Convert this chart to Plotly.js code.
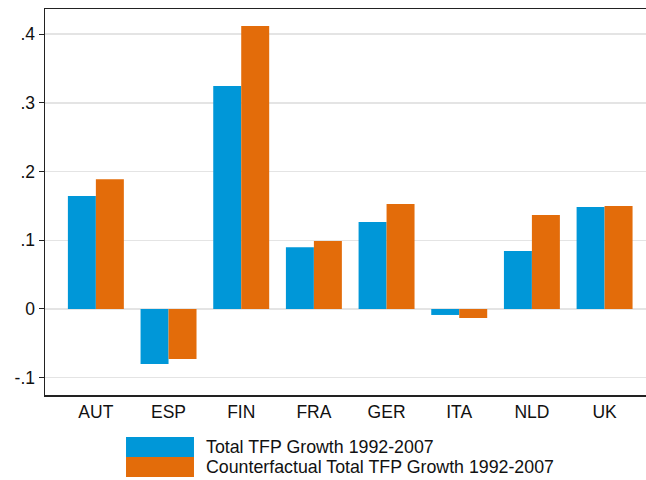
<!DOCTYPE html>
<html>
<head>
<meta charset="utf-8">
<script src="https://cdn.plot.ly/plotly-3.0.1.min.js"></script>
<style>html,body{margin:0;padding:0;background:#fff;}#chart{width:646px;height:480px;}</style>
</head>
<body>
<div id="chart"></div>
<script>
var countries = ["AUT", "ESP", "FIN", "FRA", "GER", "ITA", "NLD", "UK"];
var totalTFP = [0.1645, -0.080, 0.3246, 0.090, 0.1266, -0.0087, 0.0844, 0.1485];
var counterfactualTFP = [0.189, -0.0728, 0.412, 0.099, 0.1528, -0.0131, 0.1368, 0.150];
var seriesNames = ["Total TFP Growth 1992-2007", "Counterfactual Total TFP Growth 1992-2007"];
var yTickVals = [-0.1, 0, 0.1, 0.2, 0.3, 0.4];
var yTickText = ["-.1", "0", ".1", ".2", ".3", ".4"];

var colors = ["#0097d8", "#e36c0a"];
var FONT = "Liberation Sans, Arial, Helvetica, sans-serif";

var traces = [
  {type: "bar", x: countries, y: totalTFP, name: seriesNames[0], marker: {color: colors[0], line: {width: 0}}},
  {type: "bar", x: countries, y: counterfactualTFP, name: seriesNames[1], marker: {color: colors[1], line: {width: 0}}}
];

// custom legend (big swatches like the reference)
var legX0 = 0.1348, legX1 = 0.2479, legTextX = 0.2645;
var legY = [[-0.1088, -0.1606], [-0.1606, -0.2124]];
var shapes = [], annotations = [];
for (var i = 0; i < seriesNames.length; i++) {
  shapes.push({type: "rect", xref: "paper", yref: "paper", x0: legX0, x1: legX1,
    y0: legY[i][1], y1: legY[i][0], fillcolor: colors[i], line: {width: 0}});
  annotations.push({xref: "paper", yref: "paper", x: legTextX, y: (legY[i][0] + legY[i][1]) / 2,
    xanchor: "left", yanchor: "middle", showarrow: false, text: seriesNames[i],
    font: {family: FONT, size: 17.8, color: "#111"}});
}

var layout = {
  width: 646, height: 480,
  margin: {l: 45, r: 0, t: 9, b: 85},
  paper_bgcolor: "#fff", plot_bgcolor: "#fff",
  barmode: "group", bargap: 0.23, bargroupgap: 0,
  showlegend: false,
  font: {family: FONT, size: 17.5, color: "#111"},
  xaxis: {
    type: "category", range: [-0.7, 7.57],
    showline: true, linecolor: "#222", linewidth: 1.5, mirror: true,
    showgrid: false, ticks: "", tickfont: {family: FONT, size: 17.5, color: "#111"},
    fixedrange: true
  },
  yaxis: {
    range: [-0.1252, 0.4367],
    tickvals: yTickVals, ticktext: yTickText,
    showline: true, linecolor: "#222", linewidth: 1.5,
    ticks: "outside", ticklen: 5, tickcolor: "#222", tickwidth: 1,
    showgrid: true, gridcolor: "#e4e4e4", gridwidth: 1.5,
    zeroline: false,
    tickfont: {family: FONT, size: 17.5, color: "#111"},
    fixedrange: true
  },
  shapes: shapes,
  annotations: annotations
};

Plotly.newPlot("chart", traces, layout, {displayModeBar: false, staticPlot: true});
</script>
</body>
</html>
